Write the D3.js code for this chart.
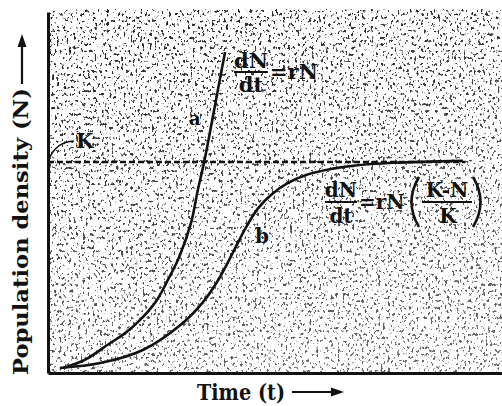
<!DOCTYPE html>
<html>
<head>
<meta charset="utf-8">
<script src="https://cdn.jsdelivr.net/npm/d3@7"></script>
<style>
  html, body { margin: 0; padding: 0; background: #fff; }
  svg { display: block; }
  .lbl { font-family: "DejaVu Serif", serif; font-weight: bold; fill: #111; }
</style>
</head>
<body>
<div id="chart"></div>
<script>
!(function(){
    "use strict"

    // values (time in arbitrary units, density in % of K)
    var timeA = [0.33, 0.81, 1.37, 1.70, 2.09, 2.40, 2.64, 2.89, 3.15, 3.30, 3.44, 3.68, 3.90]
    var densityA = [2.4, 6.2, 14.2, 18.9, 26.5, 34.6, 44.1, 55.0, 71.1, 86.7, 100, 127.0, 152.1]
    var timeB = [0.26, 1.15, 2.09, 2.97, 3.40, 3.74, 4.07, 4.34, 4.63, 4.93, 5.26, 5.70, 6.28, 6.72, 7.60, 9.14]
    var densityB = [2.4, 4.7, 10.9, 23.7, 33.2, 43.7, 56.9, 68.2, 78.1, 84.7, 89.7, 93.9, 96.8, 98.2, 99.6, 100.5]
    var carryingK = 100
    var kLineEnd = 9.2

    var width = 502, height = 406
    var margin = {top: 12, left: 48, bottom: 33, right: 0}

    var svg = d3.select("#chart").append("svg")
        .attr("width", width).attr("height", height)

    var x = d3.scaleLinear().domain([0, 10]).range([margin.left, width - margin.right])
    var y = d3.scaleLinear().domain([0, 171]).range([height - margin.bottom, margin.top])

    // speckled scan texture
    var defs = svg.append("defs")
    var filt = defs.append("filter").attr("id", "grain")
        .attr("x", 0).attr("y", 0).attr("width", 1).attr("height", 1)
        .attr("color-interpolation-filters", "sRGB")
    filt.append("feTurbulence")
        .attr("type", "fractalNoise")
        .attr("baseFrequency", "0.42 0.3")
        .attr("numOctaves", 2)
        .attr("seed", 11)
    filt.append("feColorMatrix")
        .attr("type", "matrix")
        .attr("values", "0 0 0 0 0.12  0 0 0 0 0.12  0 0 0 0 0.12  12 0 0 0 -7.2")

    var fade = defs.append("linearGradient").attr("id", "fade")
        .attr("x1", 0).attr("y1", 0).attr("x2", 0.3).attr("y2", 1)
    fade.append("stop").attr("offset", 0).attr("stop-color", "#fff")
    fade.append("stop").attr("offset", 1).attr("stop-color", "#b0b0b0")
    defs.append("mask").attr("id", "fadeMask")
        .append("rect").attr("x", 0).attr("y", 0)
        .attr("width", width).attr("height", height).attr("fill", "url(#fade)")

    svg.append("rect")
        .attr("x", x(0)).attr("y", margin.top - 3)
        .attr("width", width - x(0)).attr("height", y(0) - margin.top + 3)
        .attr("fill", "#000")
        .attr("filter", "url(#grain)")
        .attr("mask", "url(#fadeMask)")

    // axes without ticks
    svg.append("g")
        .attr("transform", "translate(0," + y(0) + ")")
        .call(d3.axisBottom(x).tickValues([]).tickSizeOuter(0))
        .select(".domain").attr("stroke", "#111").attr("stroke-width", 3)
    svg.append("g")
        .attr("transform", "translate(" + x(0) + ",0)")
        .call(d3.axisLeft(y).tickValues([]).tickSizeOuter(0))
        .select(".domain").attr("stroke", "#111").attr("stroke-width", 3)

    // carrying capacity
    svg.append("line")
        .attr("x1", x(0)).attr("x2", x(kLineEnd))
        .attr("y1", y(carryingK)).attr("y2", y(carryingK))
        .attr("stroke", "#111").attr("stroke-width", 2.5)
        .attr("stroke-dasharray", "6,3")

    var line = d3.line()
        .x(function(d) { return x(d[0]) })
        .y(function(d) { return y(d[1]) })
        .curve(d3.curveCatmullRom.alpha(0.5))

    svg.append("path")
        .datum(d3.zip(timeA, densityA))
        .attr("d", line)
        .attr("fill", "none").attr("stroke", "#111").attr("stroke-width", 2.6)
    svg.append("path")
        .datum(d3.zip(timeB, densityB))
        .attr("d", line)
        .attr("fill", "none").attr("stroke", "#111").attr("stroke-width", 2.6)

    // curve labels
    svg.append("text").attr("class", "lbl").attr("x", 189).attr("y", 125)
        .attr("font-size", 18).text("a")
    svg.append("text").attr("class", "lbl").attr("x", 255).attr("y", 243)
        .attr("font-size", 20).text("b")
    svg.append("text").attr("class", "lbl").attr("x", 76).attr("y", 148)
        .attr("font-size", 20).text("K")
    svg.append("path")
        .attr("d", "M74,141 Q56,142 49,159")
        .attr("fill", "none").attr("stroke", "#111").attr("stroke-width", 1.6)

    // equations
    function fraction(cx, top, bot, barY, half, fs) {
        svg.append("text").attr("class", "lbl").attr("x", cx).attr("y", top)
            .attr("text-anchor", "middle").attr("font-size", fs).text("dN")
        svg.append("line").attr("x1", cx - half).attr("x2", cx + half)
            .attr("y1", barY).attr("y2", barY).attr("stroke", "#111").attr("stroke-width", 2)
        svg.append("text").attr("class", "lbl").attr("x", cx).attr("y", bot)
            .attr("text-anchor", "middle").attr("font-size", fs).text("dt")
    }
    fraction(251, 68, 92, 72, 17, 21)
    svg.append("text").attr("class", "lbl").attr("x", 270).attr("y", 79)
        .attr("font-size", 21).text("=rN")

    fraction(341, 197, 223, 202, 16, 20)
    svg.append("text").attr("class", "lbl").attr("x", 359).attr("y", 209)
        .attr("font-size", 20).text("=rN")
    svg.append("path").attr("d", "M419,177 Q404,202 419,227")
        .attr("fill", "none").attr("stroke", "#111").attr("stroke-width", 2.6)
    svg.append("path").attr("d", "M473,177 Q488,202 473,227")
        .attr("fill", "none").attr("stroke", "#111").attr("stroke-width", 2.6)
    svg.append("text").attr("class", "lbl").attr("x", 447).attr("y", 197)
        .attr("text-anchor", "middle").attr("font-size", 20).text("K-N")
    svg.append("line").attr("x1", 422).attr("x2", 472)
        .attr("y1", 202).attr("y2", 202).attr("stroke", "#111").attr("stroke-width", 2)
    svg.append("text").attr("class", "lbl").attr("x", 448).attr("y", 223)
        .attr("text-anchor", "middle").attr("font-size", 20).text("K")

    // axis titles with arrows
    svg.append("text").attr("class", "lbl")
        .attr("transform", "translate(28,375) rotate(-90)")
        .attr("font-size", 20)
        .attr("textLength", 287).attr("lengthAdjust", "spacingAndGlyphs")
        .text("Population density (N)")
    svg.append("line").attr("x1", 22).attr("x2", 22).attr("y1", 84).attr("y2", 44)
        .attr("stroke", "#111").attr("stroke-width", 2.2)
    svg.append("path").attr("d", "M22,34 L17.5,47 L26.5,47 Z").attr("fill", "#111")

    svg.append("text").attr("class", "lbl")
        .attr("x", 197).attr("y", 400)
        .attr("font-size", 22)
        .attr("textLength", 88).attr("lengthAdjust", "spacingAndGlyphs")
        .text("Time (t)")
    svg.append("line").attr("x1", 292).attr("x2", 333).attr("y1", 392).attr("y2", 392)
        .attr("stroke", "#111").attr("stroke-width", 2.2)
    svg.append("path").attr("d", "M344,392 L331,387.5 L331,396.5 Z").attr("fill", "#111")
}());
</script>
</body>
</html>
